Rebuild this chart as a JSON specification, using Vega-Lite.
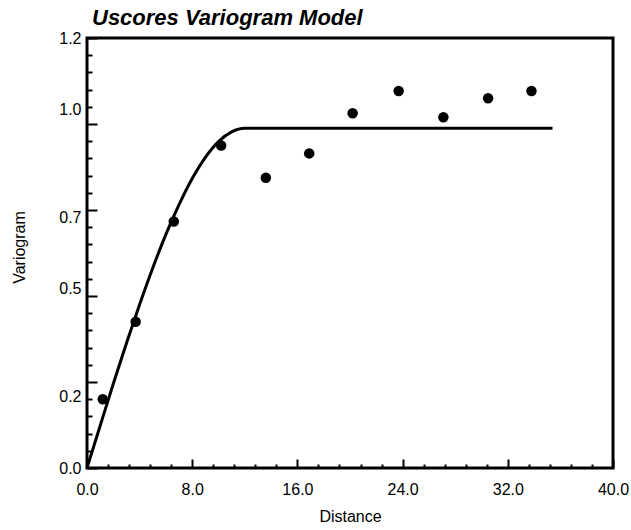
{
  "$schema": "https://vega.github.io/schema/vega-lite/v6.json",
  "width": 526,
  "height": 430,
  "autosize": "none",
  "padding": {"left": 87, "top": 38, "right": 18, "bottom": 62},
  "background": "white",
  "title": {
    "text": "Uscores Variogram Model",
    "anchor": "start",
    "font": "Liberation Sans",
    "fontSize": 22,
    "fontStyle": "italic",
    "fontWeight": "bold",
    "color": "black",
    "dx": 81,
    "offset": 0
  },
  "config": {
    "view": {"stroke": "black", "strokeWidth": 3},
    "axis": {
      "labelFont": "Liberation Sans",
      "titleFont": "Liberation Sans",
      "labelColor": "black",
      "titleColor": "black",
      "labelFontSize": 16,
      "titleFontSize": 16,
      "titleFontWeight": "normal",
      "grid": false,
      "domain": false,
      "tickColor": "black"
    }
  },
  "datasets": {
    "model": [
      {"distance": 0, "variogram": 0.0},
      {"distance": 1, "variogram": 0.118},
      {"distance": 2, "variogram": 0.235},
      {"distance": 3, "variogram": 0.348},
      {"distance": 4, "variogram": 0.456},
      {"distance": 5, "variogram": 0.558},
      {"distance": 6, "variogram": 0.652},
      {"distance": 7, "variogram": 0.735},
      {"distance": 8, "variogram": 0.808},
      {"distance": 9, "variogram": 0.867},
      {"distance": 10, "variogram": 0.911},
      {"distance": 11, "variogram": 0.938},
      {"distance": 12, "variogram": 0.948},
      {"distance": 35.4, "variogram": 0.948}
    ],
    "experimental": [
      {"distance": 1.2, "variogram": 0.192},
      {"distance": 3.7, "variogram": 0.408},
      {"distance": 6.6, "variogram": 0.688},
      {"distance": 10.2, "variogram": 0.9},
      {"distance": 13.6, "variogram": 0.81},
      {"distance": 16.9, "variogram": 0.878},
      {"distance": 20.2, "variogram": 0.99},
      {"distance": 23.7, "variogram": 1.052},
      {"distance": 27.1, "variogram": 0.979},
      {"distance": 30.5, "variogram": 1.032},
      {"distance": 33.8, "variogram": 1.052}
    ]
  },
  "layer": [
    {
      "data": {"name": "model"},
      "mark": {"type": "line", "color": "black", "strokeWidth": 3, "interpolate": "monotone"},
      "encoding": {
        "x": {
          "field": "distance",
          "type": "quantitative",
          "scale": {"domain": [0, 40], "nice": false, "zero": false},
          "axis": {
            "orient": "bottom",
            "values": [0, 1.6, 3.2, 4.8, 6.4, 8, 9.6, 11.2, 12.8, 14.4, 16, 17.6, 19.2, 20.8, 22.4, 24, 25.6, 27.2, 28.8, 30.4, 32, 33.6, 35.2, 36.8, 38.4, 40],
            "labels": false,
            "title": null,
            "tickSize": {"condition": {"test": "abs(datum.value/8 - round(datum.value/8)) < 0.001", "value": -9}, "value": -4},
            "tickWidth": 2
          }
        },
        "y": {
          "field": "variogram",
          "type": "quantitative",
          "scale": {"domain": [0, 1.2], "nice": false, "zero": false},
          "axis": {
            "orient": "left",
            "values": [0, 0.048, 0.096, 0.144, 0.192, 0.24, 0.288, 0.336, 0.384, 0.432, 0.48, 0.528, 0.576, 0.624, 0.672, 0.72, 0.768, 0.816, 0.864, 0.912, 0.96, 1.008, 1.056, 1.104, 1.152, 1.2],
            "labels": false,
            "title": null,
            "tickSize": {"condition": {"test": "abs(datum.value/0.24 - round(datum.value/0.24)) < 0.001", "value": -10}, "value": -5},
            "tickWidth": 2
          }
        }
      }
    },
    {
      "data": {"name": "experimental"},
      "mark": {"type": "circle", "color": "black", "size": 110, "opacity": 1},
      "encoding": {
        "x": {
          "field": "distance",
          "type": "quantitative",
          "axis": {
            "orient": "bottom",
            "values": [0, 8, 16, 24, 32, 40],
            "format": ".1f",
            "ticks": false,
            "labelPadding": 13,
            "labelFlush": false,
            "labelOverlap": false,
            "title": "Distance",
            "titleY": 53,
            "titleBaseline": "alphabetic"
          }
        },
        "y": {
          "field": "variogram",
          "type": "quantitative",
          "axis": {
            "orient": "left",
            "values": [0, 0.2, 0.5, 0.7, 1.0, 1.2],
            "format": ".1f",
            "ticks": false,
            "labelPadding": 6,
            "labelOverlap": false,
            "labelFlush": false,
            "title": "Variogram",
            "titleX": -63,
            "titleY": 209,
            "titleBaseline": "alphabetic",
            "titleAngle": -90
          }
        }
      }
    }
  ],
  "resolve": {"axis": {"x": "independent", "y": "independent"}}
}
